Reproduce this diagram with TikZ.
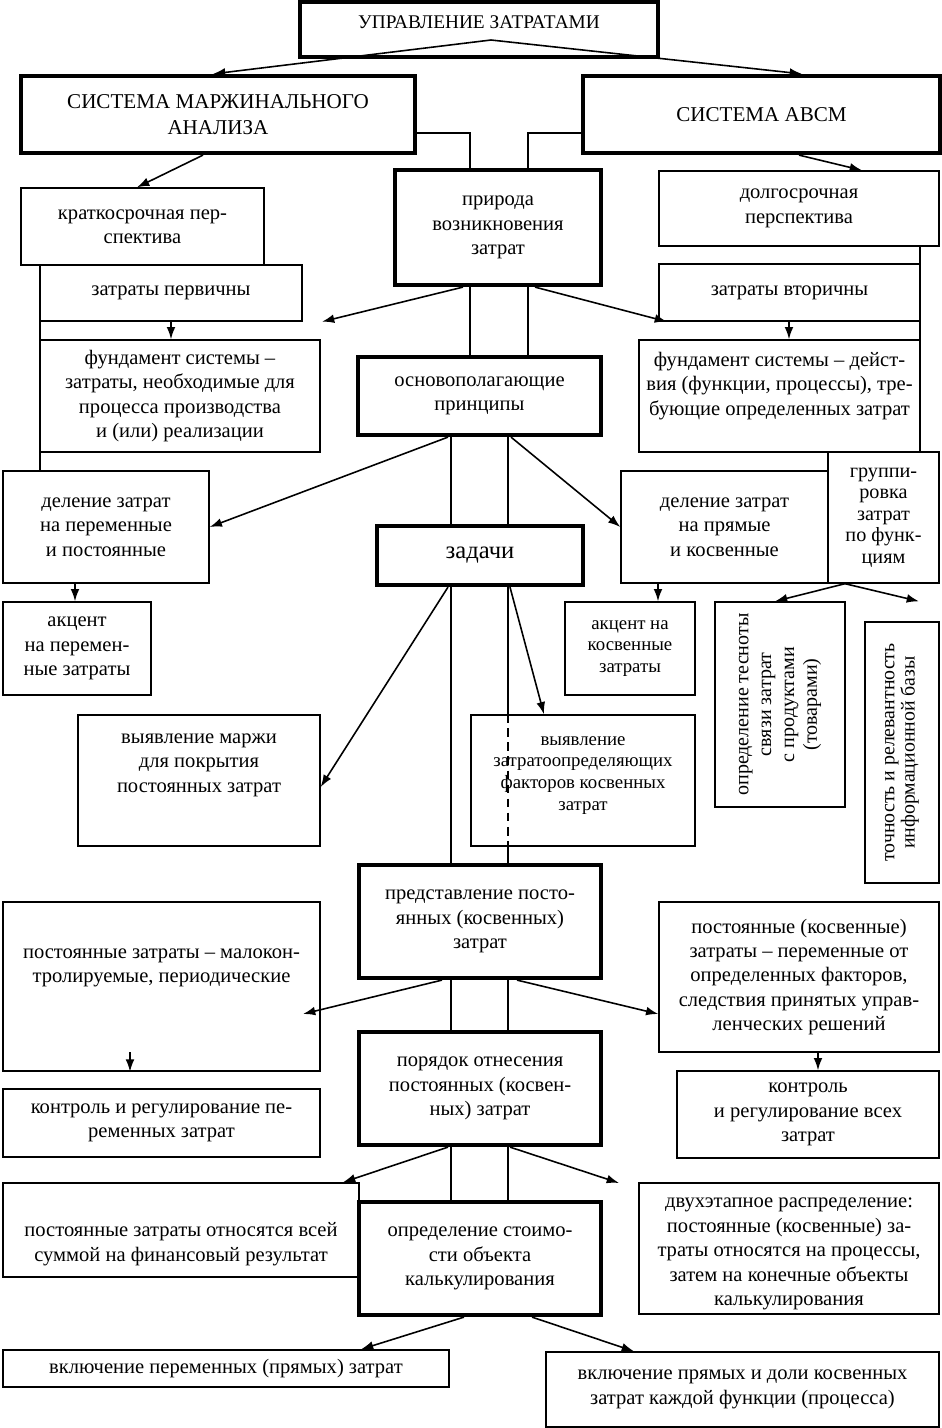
\documentclass[tikz,border=0pt]{standalone}
\usepackage{fontspec}
\setmainfont{Liberation Serif}
\usetikzlibrary{arrows.meta}

\begin{document}
\begin{tikzpicture}[
        x=0.02cm, y=-0.02cm,
        box/.style={draw, line width=0.8pt, inner sep=0pt, align=center,
            font=\fontsize{11.7}{13.9}\selectfont},
        mainbox/.style={box, line width=2.4pt},
        small/.style={font=\fontsize{10.7}{12.3}\selectfont},
        arr/.style={-{Latex[length=7pt,width=5pt]}, line width=0.9pt},
        link/.style={line width=1.6pt}
    ]
    \useasboundingbox (0,0) rectangle (942,1428);

    % upper levels
    \node[mainbox, minimum width=7.16cm, minimum height=1.1cm, font=\fontsize{11}{13}\selectfont] (upr) at (479,29.5) {УПРАВЛЕНИЕ ЗАТРАТАМИ\\[-5pt]\mbox{}};
    \node[mainbox, minimum width=7.88cm, minimum height=1.54cm, font=\fontsize{12}{14.7}\selectfont] (marg) at (218,114.5) {СИСТЕМА МАРЖИНАЛЬНОГО\\АНАЛИЗА};
    \node[mainbox, minimum width=7.14cm, minimum height=1.54cm, font=\fontsize{12}{14.7}\selectfont] (abcm) at (761.5,114.5) {СИСТЕМА АВСМ};
    \node[mainbox, minimum width=4.12cm, minimum height=2.3cm] (prir) at (498,227.5) {природа\\возникновения\\затрат};
    \node[box, minimum width=4.86cm, minimum height=1.54cm] (krat) at (142.5,226.5) {краткосрочная пер-\\спектива};
    \node[box, minimum width=5.6cm, minimum height=1.5cm] (dolg) at (799,208.5) {долгосрочная\\перспектива};
    \node[box, minimum width=5.24cm, minimum height=1.12cm] (perv) at (171,293) {затраты первичны};
    \node[box, minimum width=5.22cm, minimum height=1.14cm] (vtor) at (789.5,292.5) {затраты вторичны};
    \node[box, minimum width=5.6cm, minimum height=2.24cm] (fundL) at (180,396) {фундамент системы –\\затраты, необходимые для\\процесса производства\\и (или) реализации};
    \node[box, minimum width=5.62cm, minimum height=2.24cm] (fundR) at (779.5,396) {фундамент системы – дейст-\\вия (функции, процессы), тре-\\бующие определенных затрат\\[0pt]\mbox{}};
    \node[mainbox, minimum width=4.86cm, minimum height=1.56cm] (osn) at (479.5,396) {основополагающие\\принципы};
    \node[box, minimum width=4.12cm, minimum height=2.24cm] (delL) at (106,527) {деление затрат\\на переменные\\и постоянные};
    \node[box, minimum width=4.14cm, minimum height=2.24cm] (delR) at (724.5,527) {деление затрат\\на прямые\\и косвенные};
    \node[box, minimum width=2.22cm, minimum height=2.62cm, font=\fontsize{11.5}{12.3}\selectfont] (grup) at (883.5,517.5) {группи-\\ровка\\затрат\\по функ-\\циям};
    \node[mainbox, minimum width=4.12cm, minimum height=1.18cm, font=\fontsize{14}{16}\selectfont] (zad) at (480,555.5) {задачи};

    % tasks
    \node[box, minimum width=2.96cm, minimum height=1.86cm] (akcL) at (77,648.5) {акцент\\на перемен-\\ные затраты};
    \node[box, small, minimum width=2.6cm, minimum height=1.86cm] (akcR) at (630,648.5) {акцент на\\косвенные\\затраты};
    \node[box, rotate=90, minimum width=4.1cm, minimum height=2.6cm, font=\fontsize{11.4}{13}\selectfont] (tesn) at (780,704.5) {определение тесноты\\связи затрат\\с продуктами\\(товарами)};
    \node[box, rotate=90, minimum width=5.22cm, minimum height=1.48cm, font=\fontsize{11.3}{11.5}\selectfont] (toch) at (902,752.5) {точность и релевантность\\информационной базы};
    \node[box, minimum width=4.84cm, minimum height=2.62cm] (marzh) at (199,780.5) {выявление маржи\\для покрытия\\постоянных затрат\\[6pt]\mbox{}};
    \node[box, small, minimum width=4.48cm, minimum height=2.62cm] (fakt) at (583,780.5) {выявление\\затратоопределяющих\\факторов косвенных\\затрат\\[-4pt]\mbox{}};

    % lower levels
    \node[mainbox, minimum width=4.84cm, minimum height=2.26cm] (pred) at (480,921.5) {представление посто-\\янных (косвенных)\\затрат};
    \node[box, minimum width=6.34cm, minimum height=3.38cm] (malo) at (161.5,986.5) {постоянные затраты – малокон-\\тролируемые, периодические\\[10pt]\mbox{}};
    \node[box, minimum width=5.6cm, minimum height=3cm] (perem) at (799,977) {постоянные (косвенные)\\затраты – переменные от\\определенных факторов,\\следствия принятых управ-\\ленческих решений};
    \node[mainbox, minimum width=4.84cm, minimum height=2.26cm] (por) at (480,1088.5) {порядок отнесения\\постоянных (косвен-\\ных) затрат};
    \node[box, minimum width=6.34cm, minimum height=1.36cm] (kontrL) at (161.5,1123) {контроль и регулирование пе-\\ременных затрат};
    \node[box, minimum width=5.24cm, minimum height=1.74cm] (kontrR) at (808,1114.5) {контроль\\и регулирование всех\\затрат};
    \node[box, minimum width=7.12cm, minimum height=1.88cm] (otn) at (181,1230) {\mbox{}\\[10pt]постоянные затраты относятся всей\\суммой на финансовый результат};
    \node[mainbox, minimum width=4.84cm, minimum height=2.26cm] (opr) at (480,1258.5) {определение стоимо-\\сти объекта\\калькулирования};
    \node[box, minimum width=6cm, minimum height=2.62cm] (dvuh) at (789,1248.5) {\mbox{}\\[-2pt]двухэтапное распределение:\\постоянные (косвенные) за-\\траты относятся на процессы,\\затем на конечные объекты\\калькулирования};
    \node[box, minimum width=8.92cm, minimum height=0.74cm] (vklL) at (226,1368.5) {включение переменных (прямых) затрат};
    \node[box, minimum width=7.86cm, minimum height=1.5cm] (vklR) at (742.5,1389.5) {включение прямых и доли косвенных\\затрат каждой функции (процесса)};

    \coordinate (apex) at (491,40);
    \coordinate (maloTip) at (303,1014);
    \coordinate (maloArr) at (130,1052);
    \coordinate (dvuhTip) at (619,1183);

    % connectors
    \draw[arr] (apex) -- (213,0 |- marg.north);
    \draw[arr] (apex) -- (802,0 |- abcm.north);
    \draw[link] (marg.east |- 0,133) -| (470,0 |- prir.north);
    \draw[link] (abcm.west |- 0,133) -| (528,0 |- prir.north);
    \draw[arr] (203,0 |- marg.south) -- (137,0 |- krat.north);
    \draw[arr] (799,0 |- abcm.south) -- (862,0 |- dolg.north);
    \draw[line width=0.8pt] (920,0 |- dolg.south) -- (920,0 |- grup.north);
    \draw[line width=0.8pt] (40,0 |- perv.north) -- (40,0 |- delL.north);
    \draw[arr] (171,0 |- perv.south) -- (171,0 |- fundL.north);
    \draw[arr] (789,0 |- vtor.south) -- (789,0 |- fundR.north);
    \draw[arr] (463,0 |- prir.south) -- (322,0 |- perv.south);
    \draw[arr] (535,0 |- prir.south) -- (667,0 |- vtor.south);
    \draw[link] (470,0 |- prir.south) -- (470,0 |- osn.north);
    \draw[link] (528,0 |- prir.south) -- (528,0 |- osn.north);

    \draw[arr] (448,0 |- osn.south) -- (delL.east);
    \draw[arr] (511,0 |- osn.south) -- (delR.west);
    \draw[link] (451,0 |- osn.south) -- (451,0 |- zad.north);
    \draw[link] (508,0 |- osn.south) -- (508,0 |- zad.north);
    \draw[arr] (75,0 |- delL.south) -- (75,0 |- akcL.north);
    \draw[arr] (658,0 |- delR.south) -- (658,0 |- akcR.north);
    \draw[arr] (845,0 |- grup.south) -- (775,0 |- tesn.east);
    \draw[arr] (845,0 |- grup.south) -- (919,0 |- tesn.east);

    \draw[arr] (448,0 |- zad.south) -- (marzh.east |- 0,787);
    \draw[arr] (510,0 |- zad.south) -- (544,0 |- fakt.north);
    \draw[link] (451,0 |- zad.south) -- (451,0 |- pred.north);
    \draw[link] (508,0 |- zad.south) -- (508,0 |- fakt.north);
    \draw[line width=0.8pt, dash pattern=on 5pt off 3pt] (508,0 |- fakt.north) -- (508,0 |- fakt.south);
    \draw[link] (508,0 |- fakt.south) -- (508,0 |- pred.north);

    \draw[arr] (442,0 |- pred.south) -- (maloTip);
    \draw[arr] (517,0 |- pred.south) -- (perem.west |- 0,1014);
    \draw[link] (451,0 |- pred.south) -- (451,0 |- por.north);
    \draw[link] (508,0 |- pred.south) -- (508,0 |- por.north);
    \draw[arr] (maloArr) -- (130,0 |- malo.south);
    \draw[arr] (818,0 |- perem.south) -- (818,0 |- kontrR.north);

    \draw[arr] (448,0 |- por.south) -- (343,0 |- otn.north);
    \draw[arr] (510,0 |- por.south) -- (dvuhTip);
    \draw[link] (451,0 |- por.south) -- (451,0 |- opr.north);
    \draw[link] (508,0 |- por.south) -- (508,0 |- opr.north);
    \draw[arr] (464,0 |- opr.south) -- (361,0 |- vklL.north);
    \draw[arr] (532,0 |- opr.south) -- (634,0 |- vklR.north);
\end{tikzpicture}
\end{document}
